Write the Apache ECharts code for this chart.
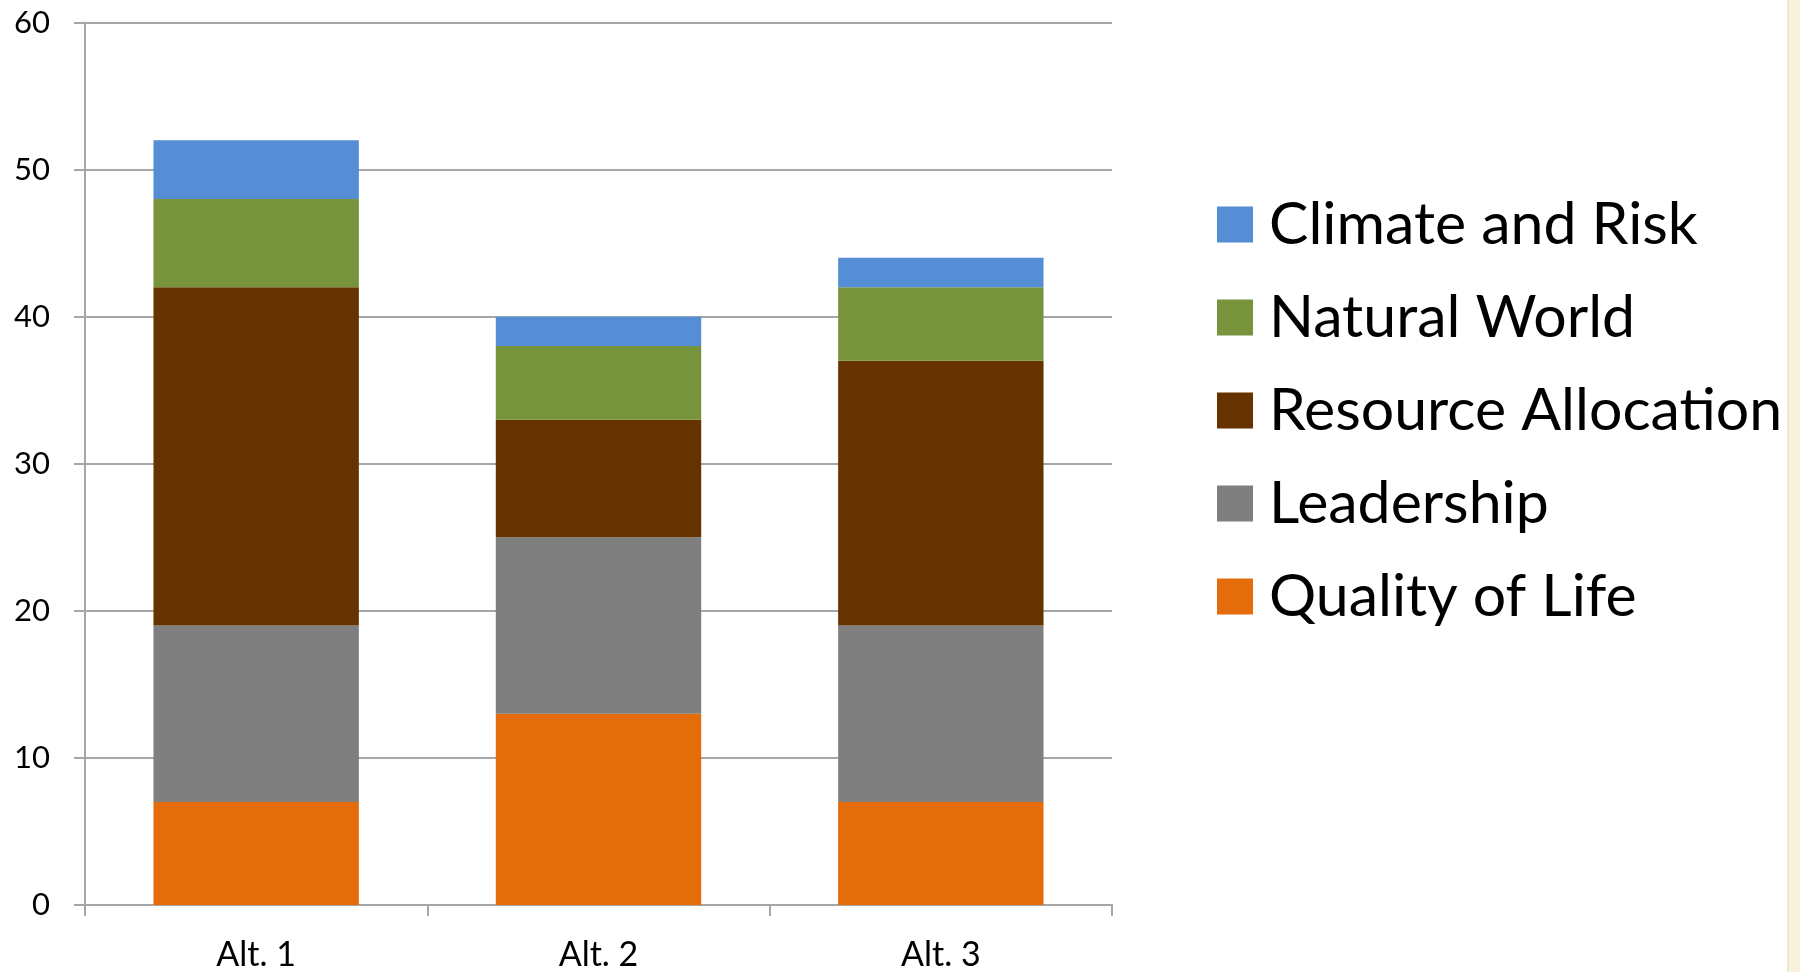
<!DOCTYPE html>
<html>
<head>
<meta charset="utf-8">
<title>Stacked scores by alternative</title>
<script src="https://cdn.jsdelivr.net/npm/echarts@6/dist/echarts.min.js"></script>
<style>
  html, body { margin: 0; padding: 0; background: #ffffff; }
  #chart { width: 1800px; height: 972px; }
</style>
</head>
<body>
<div id="chart"></div>
<script>
// Categories along the x axis
const categories = ['Alt. 1', 'Alt. 2', 'Alt. 3'];

// Stacked components, bottom to top
const qualityOfLife      = [7, 13, 7];
const leadership         = [12, 12, 12];
const resourceAllocation = [23, 8, 18];
const naturalWorld       = [6, 5, 5];
const climateAndRisk     = [4, 2, 2];

// Value axis ticks
const yTicks = [0, 10, 20, 30, 40, 50, 60];

// Legend order, top to bottom
const legendOrder = ['Climate and Risk', 'Natural World', 'Resource Allocation', 'Leadership', 'Quality of Life'];

const FONT = 'Lato, "Open Sans", sans-serif';
const GRID_GRAY = '#a6a6a6';

const seriesDefs = [
  { name: 'Quality of Life',     data: qualityOfLife,      color: '#e46c0a' },
  { name: 'Leadership',          data: leadership,         color: '#7f7f7f' },
  { name: 'Resource Allocation', data: resourceAllocation, color: '#663300' },
  { name: 'Natural World',       data: naturalWorld,       color: '#77933c' },
  { name: 'Climate and Risk',    data: climateAndRisk,     color: '#558ed5' }
];

const chart = echarts.init(document.getElementById('chart'), null, { renderer: 'canvas' });

chart.setOption({
  backgroundColor: '#ffffff',
  animation: false,
  textStyle: { fontFamily: FONT },
  grid: { left: 85, right: 688, top: 22.5, bottom: 64.5, containLabel: false },
  legend: {
    orient: 'vertical',
    left: 1212,
    top: 190,
    data: legendOrder,
    icon: 'rect',
    itemWidth: 36,
    itemHeight: 36,
    itemGap: 34,
    selectedMode: false,
    textStyle: { fontFamily: FONT, fontSize: 59, color: '#000000', padding: [0, 0, 0, 11] }
  },
  xAxis: {
    type: 'category',
    data: categories,
    boundaryGap: true,
    axisLine: { show: true, lineStyle: { color: GRID_GRAY, width: 2 } },
    axisTick: { show: true, length: 11, lineStyle: { color: GRID_GRAY, width: 2 } },
    axisLabel: { color: '#000000', fontSize: 34, fontFamily: FONT, margin: 33 }
  },
  yAxis: {
    type: 'value',
    min: yTicks[0],
    max: yTicks[yTicks.length - 1],
    interval: yTicks[1] - yTicks[0],
    axisLine: { show: true, lineStyle: { color: GRID_GRAY, width: 2 } },
    axisTick: { show: true, length: 11, lineStyle: { color: GRID_GRAY, width: 2 } },
    splitLine: { show: true, lineStyle: { color: GRID_GRAY, width: 2 } },
    axisLabel: { color: '#000000', fontSize: 31, fontFamily: FONT, margin: 35 }
  },
  series: seriesDefs.map(s => ({
    name: s.name,
    type: 'bar',
    stack: 'total',
    data: s.data,
    barCategoryGap: '40%',
    itemStyle: { color: s.color },
    emphasis: { disabled: true }
  })),
  graphic: [
    // cream frame strip along the right edge
    { type: 'rect', shape: { x: 1788, y: 0, width: 12, height: 972 }, style: { fill: '#f8f2dc' }, silent: true },
    { type: 'line', shape: { x1: 1788, y1: 0, x2: 1788, y2: 972 }, style: { stroke: '#e2d7b4', lineWidth: 1 }, silent: true }
  ]
});
</script>
</body>
</html>
